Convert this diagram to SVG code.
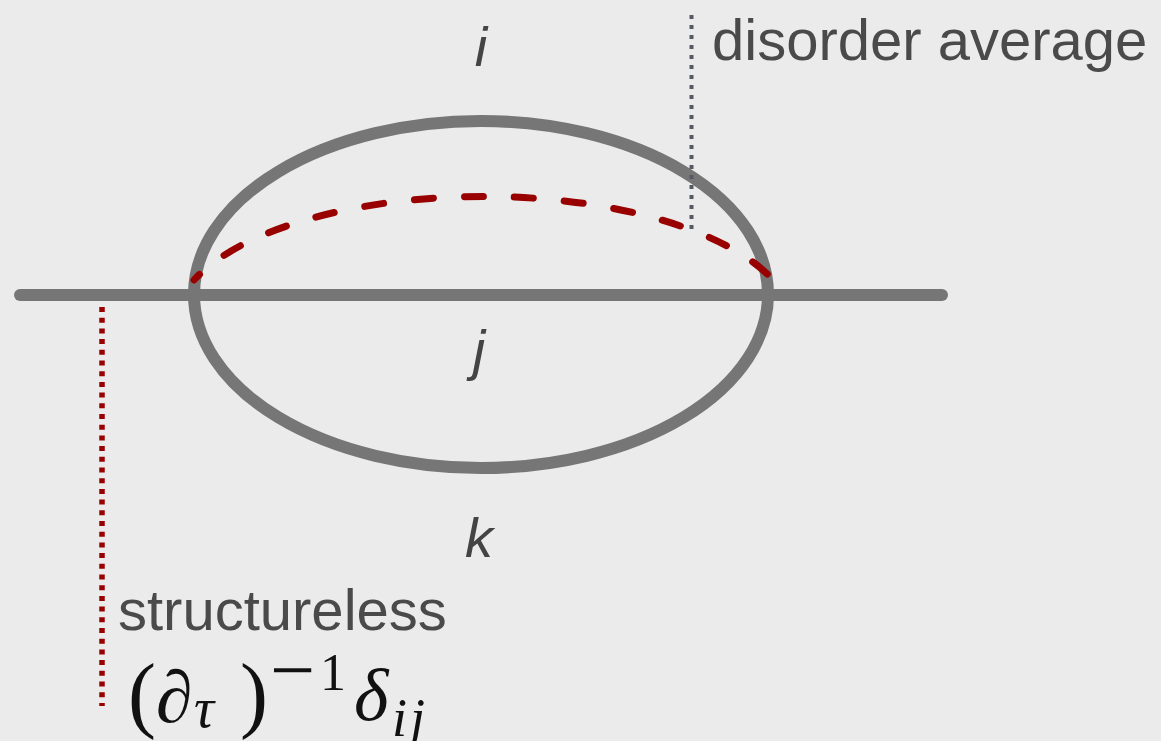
<svg xmlns="http://www.w3.org/2000/svg" width="1161" height="741" viewBox="0 0 1161 741">
  <style>
    .line { fill: none; stroke: #777676; stroke-width: 12; stroke-linecap: round; }
    .label { font-family: "Liberation Sans", Arial, sans-serif; font-size: 58px; fill: #4a4a4a; }
    .idx { font-family: "Liberation Sans", Arial, sans-serif; font-size: 56px; font-style: italic; fill: #444444; text-anchor: middle; }
    .math { font-family: "Liberation Serif", "Times New Roman", serif; fill: #111111; }
  </style>
  <rect width="1161" height="741" fill="#ebebeb"/>

  <g id="loop">
    <ellipse class="line" cx="481" cy="294.5" rx="287" ry="173.5"/>
  </g>

  <g id="connectors">
    <line id="propagator" class="line" x1="20" y1="295" x2="942" y2="295"/>
    <path id="disorder-arc" d="M194,280 A310,130 0 0 1 774,281" fill="none" stroke="#990000" stroke-width="7" stroke-linecap="round" stroke-dasharray="19 31" stroke-dashoffset="11"/>
    <line id="disorder-pointer" x1="691.5" y1="15" x2="691.5" y2="232" stroke="#555a62" stroke-width="4" stroke-dasharray="4 6"/>
    <line id="structureless-pointer" x1="102" y1="307" x2="102" y2="706" stroke="#990000" stroke-width="5.5" stroke-dasharray="5 5.7"/>
  </g>

  <g id="label-i"><text class="idx" x="481" y="66">i</text></g>
  <g id="label-j"><text class="idx" x="479" y="369">j</text></g>
  <g id="label-k"><text class="idx" x="479" y="557">k</text></g>

  <g id="label-disorder"><text class="label" x="712" y="60">disorder average</text></g>

  <g id="label-structureless">
    <text class="label" x="118" y="630">structureless</text>
    <text class="math" y="722">
      <tspan x="128" font-size="84">(</tspan><tspan x="156" font-size="74" font-style="italic">∂</tspan><tspan x="194" y="727" font-size="56" font-style="italic">τ</tspan><tspan x="240" y="722" font-size="84">)</tspan><tspan x="270" y="697" font-size="80">−</tspan><tspan x="320" y="690" font-size="52">1</tspan><tspan x="354" y="720" font-size="74" font-style="italic">δ</tspan><tspan x="392" y="736" font-size="54" font-style="italic" letter-spacing="3">ij</tspan>
    </text>
  </g>
</svg>
